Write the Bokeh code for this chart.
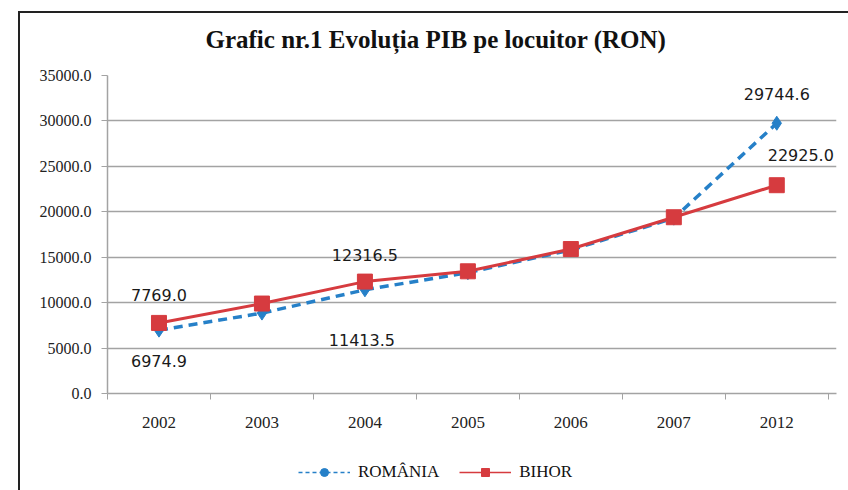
from bokeh.plotting import figure
from bokeh.layouts import column
from bokeh.models import (FixedTicker, NumeralTickFormatter, Legend, LegendItem,
                          ColumnDataSource, Range1d)
from bokeh.core.properties import value
from bokeh.embed import file_html
from bokeh.resources import INLINE

# ---- data ----
years = ["2002", "2003", "2004", "2005", "2006", "2007", "2012"]
romania = [6974.9, 8850.0, 11413.5, 13300.0, 15800.0, 19300.0, 29744.6]
bihor = [7769.0, 9900.0, 12316.5, 13450.0, 15900.0, 19400.0, 22925.0]
y_ticks = [0, 5000, 10000, 15000, 20000, 25000, 30000, 35000]
title_text = "Grafic nr.1 Evoluția PIB pe locuitor (RON)"
series_names = ["ROMÂNIA", "BIHOR"]
# indices of points that carry a value label
labelled_idx = [0, 2, 6]

BLUE = "#2680C8"
RED = "#D63B3F"
GRID = "#A3A3A3"
SERIF = "Liberation Serif"
SANS = "DejaVu Sans"

xs = list(range(len(years)))

p = figure(width=848, height=450, output_backend="svg", toolbar_location=None,
           x_range=Range1d(-0.5, len(years) - 0.42), y_range=Range1d(0, 35000),
           min_border_left=107, min_border_right=12, min_border_top=75,
           min_border_bottom=57)
p.outline_line_color = None
p.background_fill_color = "white"
p.border_fill_color = None

# title
p.title.text = title_text
p.title.align = "left"
p.title.offset = 98
p.title.text_font = SERIF
p.title.text_font_style = "bold"
p.title.text_font_size = "25px"
p.title.text_color = "#111111"
p.title.standoff = 45

# axes
p.xaxis.ticker = FixedTicker(ticks=xs, minor_ticks=[i - 0.5 for i in range(len(years) + 1)])
p.xaxis.major_label_overrides = {i: y for i, y in enumerate(years)}
p.xaxis.major_tick_out = 0
p.xaxis.major_tick_in = 0
p.xaxis.minor_tick_out = 6
p.xaxis.minor_tick_in = 0
p.xaxis.minor_tick_line_color = GRID
p.xaxis.axis_line_color = GRID
p.xaxis.axis_line_width = 1.5
p.xaxis.major_label_standoff = 17
p.xaxis.major_label_text_font = SERIF
p.xaxis.major_label_text_font_size = "17px"
p.xaxis.major_label_text_color = "#222222"

p.yaxis.ticker = FixedTicker(ticks=y_ticks)
p.yaxis.formatter = NumeralTickFormatter(format="0.0")
p.yaxis.major_tick_out = 6
p.yaxis.major_tick_in = 0
p.yaxis.minor_tick_line_color = None
p.yaxis.major_tick_line_color = GRID
p.yaxis.axis_line_color = GRID
p.yaxis.axis_line_width = 1.5
p.yaxis.major_label_standoff = 10
p.yaxis.major_label_text_font = SERIF
p.yaxis.major_label_text_font_size = "16px"
p.yaxis.major_label_text_color = "#222222"

p.xgrid.grid_line_color = None
p.ygrid.ticker = FixedTicker(ticks=y_ticks)
p.ygrid.grid_line_color = GRID
p.ygrid.grid_line_width = 1.5

# series
src = ColumnDataSource(dict(x=xs, ro=romania, bh=bihor))
p.line("x", "ro", source=src, line_color=BLUE, line_width=3.5, line_dash="9 6")
p.scatter("x", "ro", source=src, marker="diamond", size=14, fill_color=BLUE, line_color=BLUE)
p.line("x", "bh", source=src, line_color=RED, line_width=3)
p.scatter("x", "bh", source=src, marker="square", size=15, fill_color=RED, line_color=RED)

# value labels
fmt = lambda v: f"{v:.1f}"
ro_lab = ColumnDataSource(dict(x=[xs[i] for i in labelled_idx],
                               y=[romania[i] for i in labelled_idx],
                               t=[fmt(romania[i]) for i in labelled_idx],
                               dx=[0, -3, 0], dy=[31, 50, -29]))
bh_lab = ColumnDataSource(dict(x=[xs[i] for i in labelled_idx],
                               y=[bihor[i] for i in labelled_idx],
                               t=[fmt(bihor[i]) for i in labelled_idx],
                               dx=[0, 0, 24], dy=[-28, -27, -30]))
for s in (ro_lab, bh_lab):
    p.text("x", "y", text="t", source=s, x_offset="dx", y_offset="dy",
           text_font=value(SANS), text_font_size="16px", text_color="#1a1a1a",
           text_align="center", text_baseline="middle")

# legend strip (separate small figure; its series lie outside its ranges,
# so only the legend glyphs show)
lf = figure(width=848, height=40, output_backend="svg", toolbar_location=None,
            x_axis_type=None, y_axis_type=None, min_border=0,
            x_range=Range1d(-10, -9), y_range=Range1d(-10, -9))
lf.outline_line_color = None
lf.xgrid.grid_line_color = None
lf.ygrid.grid_line_color = None
lf.background_fill_color = None
lf.border_fill_color = None
lg_ro_l = lf.line(xs, romania, line_color=BLUE, line_width=1.5, line_dash="4 3")
lg_ro_m = lf.scatter(xs, romania, marker="circle", size=7, fill_color=BLUE, line_color=BLUE)
lg_bh_l = lf.line(xs, bihor, line_color=RED, line_width=1.5)
lg_bh_m = lf.scatter(xs, bihor, marker="square", size=10, fill_color=RED, line_color=RED)
legend = Legend(items=[LegendItem(label=series_names[0], renderers=[lg_ro_l, lg_ro_m], index=0),
                       LegendItem(label=series_names[1], renderers=[lg_bh_l, lg_bh_m], index=0)],
                location=(191, 8), orientation="horizontal",
                background_fill_alpha=0, border_line_color=None,
                padding=0, margin=0, spacing=20, glyph_width=52, glyph_height=20,
                label_height=20, label_standoff=8,
                label_text_font=SERIF, label_text_font_size="17px",
                label_text_color="#111111")
lf.add_layout(legend, "center")

# outer frame lines of the original picture, drawn as the page block's background
layout = column(p, lf, spacing=0, styles={
    "background": "linear-gradient(#222, #222) 18px 11px / 2px 100% no-repeat, "
                  "linear-gradient(#222, #222) 18px 11px / 100% 2px no-repeat, white"})
open("out.html", "w").write(file_html(layout, INLINE))
